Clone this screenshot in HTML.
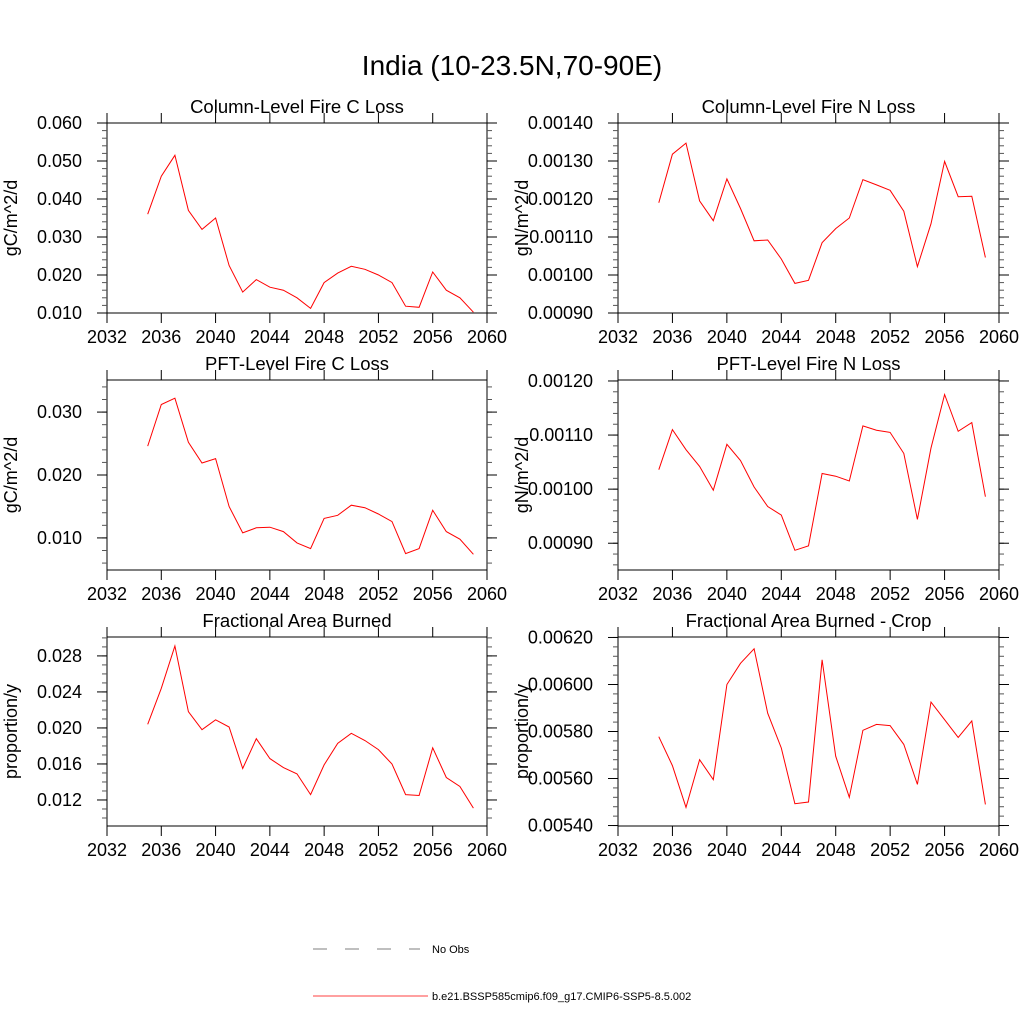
<!DOCTYPE html>
<html><head><meta charset="utf-8"><style>
body{margin:0;background:#fff;}
svg{display:block;font-family:"Liberation Sans",sans-serif;}
</style></head><body>
<svg id="c" width="1024" height="1024">
<text x="512" y="75" font-size="28" text-anchor="middle">India (10-23.5N,70-90E)</text>
<g>
<line x1="313" y1="949" x2="420" y2="949" stroke="#555" stroke-width="0.8" stroke-dasharray="14,18"/>
<text x="432" y="953" font-size="11">No Obs</text>
<line x1="313" y1="996" x2="428" y2="996" stroke="#f00" stroke-width="0.8"/>
<text x="432" y="1000" font-size="11">b.e21.BSSP585cmip6.f09_g17.CMIP6-SSP5-8.5.002</text>
</g>
</svg>
<script>
const years=[2035,2036,2037,2038,2039,2040,2041,2042,2043,2044,2045,2046,2047,2048,2049,2050,2051,2052,2053,2054,2055,2056,2057,2058,2059];
const xTicks=[2032,2036,2040,2044,2048,2052,2056,2060];
const colC=[.036,.046,.0515,.037,.032,.035,.0225,.0155,.0188,.0168,.016,.014,.0112,.018,.0205,.0223,.0215,.020,.018,.0118,.0115,.0208,.016,.014,.0102];
const colN=[.00119,.001318,.001347,.001195,.001143,.001253,.001175,.00109,.001092,.001042,.000978,.000986,.001085,.001122,.00115,.001251,.001237,.001223,.001168,.001022,.001135,.001299,.001206,.001207,.001046];
const pftC=[.0246,.0312,.0322,.0252,.0219,.0226,.0150,.0108,.0116,.0117,.0110,.0092,.0083,.0131,.0136,.0152,.0148,.0138,.0126,.0075,.0083,.0144,.0110,.0098,.0074];
const pftN=[.001036,.00111,.001073,.001042,.000998,.001083,.001053,.001004,.000968,.000952,.000887,.000895,.001029,.001024,.001015,.001117,.001109,.001105,.001066,.000944,.001076,.001175,.001107,.001123,.000986];
const fab=[.0204,.0244,.0291,.0218,.0198,.0209,.0201,.0155,.0188,.0166,.0156,.0149,.0126,.0159,.0183,.0194,.0186,.0176,.0160,.0126,.0125,.0178,.0145,.0135,.0111];
const fabCrop=[.005778,.005655,.005477,.00568,.005595,.006,.00609,.006152,.005878,.00573,.005493,.0055,.006105,.005695,.00552,.005805,.00583,.005825,.005745,.005575,.005925,.00585,.005775,.005845,.00549];
const tick1=[0.010,0.020,0.030,0.040,0.050,0.060];
const tick2=[0.0009,0.0010,0.0011,0.0012,0.0013,0.0014];
const tick3=[0.010,0.020,0.030];
const tick4=[0.0009,0.0010,0.0011,0.0012];
const tick5=[0.012,0.016,0.020,0.024,0.028];
const tick6=[0.0054,0.0056,0.0058,0.0060,0.0062];
const NS="http://www.w3.org/2000/svg";
const svg=document.getElementById('c');
function mk(t,a,p){const e=document.createElementNS(NS,t);for(const k in a)e.setAttribute(k,a[k]);(p||svg).appendChild(e);return e;}
const panels=[
{id:'column-fire-c',title:'Column-Level Fire C Loss',yl:'gC/m^2/d',x0:107,x1:487,y0:123,y1:313,ymin:0.010,ymax:0.060,ticks:tick1,minor:0.002,dec:3,data:colC},
{id:'column-fire-n',title:'Column-Level Fire N Loss',yl:'gN/m^2/d',x0:618,x1:999,y0:123,y1:313,ymin:0.0009,ymax:0.0014,ticks:tick2,minor:0.00002,dec:5,data:colN},
{id:'pft-fire-c',title:'PFT-Level Fire C Loss',yl:'gC/m^2/d',x0:107,x1:487,y0:380,y1:570,ymin:0.0049,ymax:0.0351,ticks:tick3,minor:0.002,dec:3,data:pftC},
{id:'pft-fire-n',title:'PFT-Level Fire N Loss',yl:'gN/m^2/d',x0:618,x1:999,y0:380,y1:570,ymin:0.0008505,ymax:0.0012018,ticks:tick4,minor:0.00002,dec:5,data:pftN},
{id:'area-burned',title:'Fractional Area Burned',yl:'proportion/y',x0:107,x1:487,y0:637,y1:826,ymin:0.00911,ymax:0.0301,ticks:tick5,minor:0.001,dec:3,data:fab},
{id:'area-burned-crop',title:'Fractional Area Burned - Crop',yl:'proportion/y',x0:618,x1:999,y0:637,y1:826,ymin:0.005398,ymax:0.006202,ticks:tick6,minor:0.00004,dec:5,data:fabCrop}
];
panels.forEach(p=>{
 const g=mk('g',{});
 
 
 const X=v=>p.x0+(v-2032)/(28)*(p.x1-p.x0);
 const Y=v=>p.y1-(v-p.ymin)/(p.ymax-p.ymin)*(p.y1-p.y0);
 const t=mk('text',{x:(p.x0+p.x1)/2,y:p.y0-10,'font-size':18.5,'text-anchor':'middle'},g);t.textContent=p.title;
 
 
 const yt=mk('text',{x:0,y:0,'font-size':18,'text-anchor':'middle',transform:`translate(${p.x0-90},${(p.y0+p.y1)/2}) rotate(-90)`},g);yt.textContent=p.yl;
 
 
 mk('rect',{x:p.x0,y:p.y0,width:p.x1-p.x0,height:p.y1-p.y0,fill:'none',stroke:'#000','stroke-width':1},g);
 for(let yr=2032;yr<=2060;yr++){
  const x=X(yr);const maj=xTicks.includes(yr);const L=maj?10:0;
  if(!maj)continue;
  mk('line',{x1:x,y1:p.y1,x2:x,y2:p.y1+L,stroke:'#000'},g);
  mk('line',{x1:x,y1:p.y0,x2:x,y2:p.y0-L,stroke:'#000'},g);
  const lt=mk('text',{x:x,y:p.y1+30,'font-size':18,'text-anchor':'middle'},g);lt.textContent=yr;
  
  
 }
 const start=Math.ceil(p.ymin/p.minor-1e-6);
 for(let k=start;k*p.minor<=p.ymax+1e-12;k++){
  const y=Y(k*p.minor);
  mk('line',{x1:p.x0,y1:y,x2:p.x0-5,y2:y,stroke:'#555'},g);
  mk('line',{x1:p.x1,y1:y,x2:p.x1+5,y2:y,stroke:'#555'},g);
 }
 p.ticks.forEach(v=>{
  const y=Y(v);
  mk('line',{x1:p.x0,y1:y,x2:p.x0-10,y2:y,stroke:'#000'},g);
  mk('line',{x1:p.x1,y1:y,x2:p.x1+10,y2:y,stroke:'#000'},g);
  const lt=mk('text',{x:p.x0-25,y:y+6,'font-size':18,'text-anchor':'end'},g);lt.textContent=v.toFixed(p.dec);
  
  
 });
 const pts=p.data.map((v,i)=>X(years[i]).toFixed(1)+','+Y(v).toFixed(1)).join(' ');
 const pl=mk('polyline',{points:pts,fill:'none',stroke:'#f00','stroke-width':1},g);
 
 
});
</script>
</body></html>
